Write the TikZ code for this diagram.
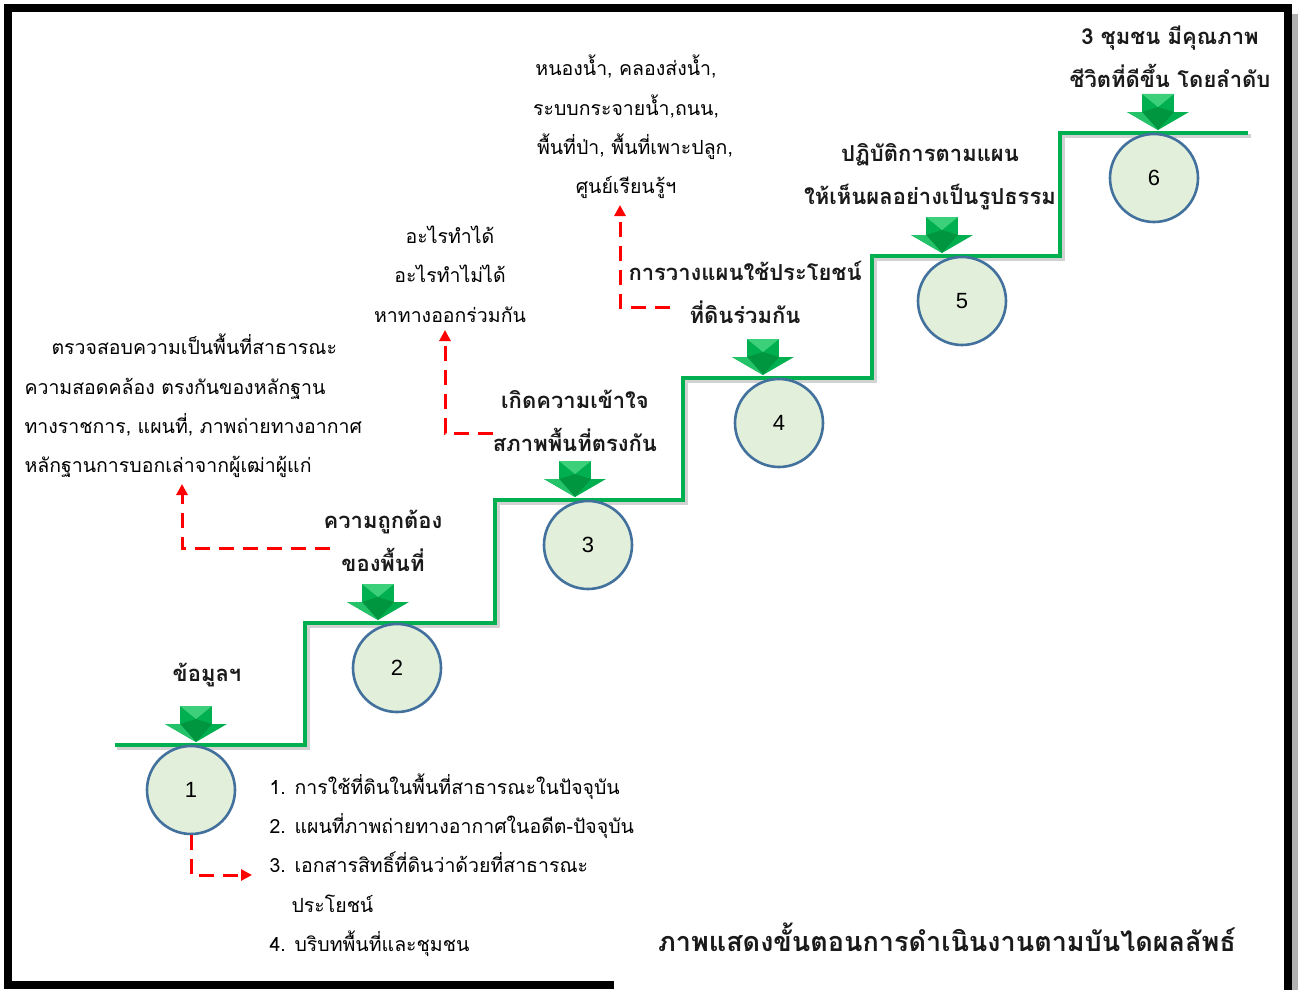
\documentclass[tikz,border=0pt]{standalone}
\usepackage{fontspec}
\newfontfamily\thai[Script=Thai]{Loma}
\setsansfont{Liberation Sans}
\usetikzlibrary{arrows.meta}
\definecolor{stairgreen}{HTML}{00B050}
\definecolor{circfill}{HTML}{E2EFDA}
\definecolor{circline}{HTML}{41719C}
\definecolor{argreen}{HTML}{00B050}
\definecolor{ardark}{HTML}{00963F}
\definecolor{arlight}{HTML}{3CD07A}
\definecolor{txt}{HTML}{1A1A1A}
\tikzset{
  stair/.style={draw=stairgreen,line width=4.5pt,line join=miter},
  stairshadow/.style={draw=black!35,line width=4.5pt,opacity=0.5},
  stepcircle/.style={circle,draw=circline,line width=2.6pt,fill=circfill,minimum size=88pt,inner sep=0pt,font=\sffamily\fontsize{22}{24}\selectfont},
  steplabel/.style={align=center,text=txt,font=\thai\bfseries\fontsize{22}{43}\selectfont},
  plaintext/.style={text=black,font=\thai\fontsize{19.5}{39.3}\selectfont},
  redarrow/.style={draw=red,line width=3pt,dash pattern=on 15pt off 9pt,-{Triangle[length=11pt,width=11pt]}},
}
\newcommand\greenarrow[2]{%
  \begin{scope}[shift={(#1,#2)}]
    \fill[argreen] (-16,-37) rectangle (16,-19);
    \fill[arlight] (-16,-37) -- (16,-37) -- (0,-24) -- cycle;
    \fill[argreen] (-31,-19) -- (31,-19) -- (0,-1) -- cycle;
    \fill[ardark] (-16,-19) -- (0,-24) -- (16,-19) -- (0,-1) -- cycle;
    \fill[arlight!60!argreen] (-31,-19) -- (-16,-19) -- (0,-1) -- cycle;
  \end{scope}}
\begin{document}
\begin{tikzpicture}[x=1pt,y=-1pt]
\useasboundingbox (0,0) rectangle (1299,990);
\fill[white] (0,0) rectangle (1299,990);
% frame
\fill[black!30] (1292,14) rectangle (1298,990);
\draw[black,line width=8pt] (614,985) -- (8,985) -- (8,8) -- (1288,8) -- (1288,990);
% staircase
\draw[stairshadow] (117,748) -| (308,626) -| (498,503) -| (686,381) -| (875,259) -| (1063,136) -- (1251,136);
\draw[stair] (115,745) -| (305,623) -| (495,500) -| (683,378) -| (872,256) -| (1060,133) -- (1248,133);
% circles
\node[stepcircle] (c1) at (191,790) {1};
\node[stepcircle] (c2) at (397,668) {2};
\node[stepcircle] (c3) at (588,545) {3};
\node[stepcircle] (c4) at (779,423) {4};
\node[stepcircle] (c5) at (962,301) {5};
\node[stepcircle] (c6) at (1154,178) {6};
% green arrows
\greenarrow{196}{743}
\greenarrow{378}{621}
\greenarrow{575}{498}
\greenarrow{763}{376}
\greenarrow{942}{254}
\greenarrow{1158}{131}
% step labels
\node[steplabel] (l1) at (207,675) {ข้อมูลฯ};
\node[steplabel] (l2) at (383,541) {ความถูกต้อง\\ของพื้นที่};
\node[steplabel] (l3) at (575,421) {เกิดความเข้าใจ\\สภาพพื้นที่ตรงกัน};
\node[steplabel] (l4) at (745,292) {การวางแผนใช้ประโยชน์\\ที่ดินร่วมกัน};
\node[steplabel] (l5) at (930,177) {ปฏิบัติการตามแผน\\ให้เห็นผลอย่างเป็นรูปธรรม};
\node[steplabel] (l6) at (1170,57) {3 ชุมชน มีคุณภาพ\\ชีวิตที่ดีขึ้น โดยลำดับ};
% detail texts
\node[plaintext,align=left,anchor=west] (d1) at (266,865) {1. การใช้ที่ดินในพื้นที่สาธารณะในปัจจุบัน\\2. แผนที่ภาพถ่ายทางอากาศในอดีต-ปัจจุบัน\\3. เอกสารสิทธิ์ที่ดินว่าด้วยที่สาธารณะ\\\hspace*{22pt}ประโยชน์\\4. บริบทพื้นที่และชุมชน};
\node[plaintext,align=left,anchor=west] (d2) at (21,406) {\hspace*{27pt}ตรวจสอบความเป็นพื้นที่สาธารณะ\\ความสอดคล้อง ตรงกันของหลักฐาน\\ทางราชการ, แผนที่, ภาพถ่ายทางอากาศ\\หลักฐานการบอกเล่าจากผู้เฒ่าผู้แก่};
\node[plaintext,align=center] (d3) at (450,274) {อะไรทำได้\\อะไรทำไม่ได้\\หาทางออกร่วมกัน};
\node[plaintext,align=center] (d4) at (626,127) {หนองน้ำ, คลองส่งน้ำ,\\ระบบกระจายน้ำ,ถนน,\\\hspace*{18pt}พื้นที่ป่า, พื้นที่เพาะปลูก,\\ศูนย์เรียนรู้ฯ};
% title
\node[text=txt,font=\thai\bfseries\fontsize{27}{30}\selectfont] (title) at (947,937) {ภาพแสดงขั้นตอนการดำเนินงานตามบันไดผลลัพธ์};
% red dashed connectors
\coordinate (e1) at (252,875);
\coordinate (s2) at (330,548);
\coordinate (e2) at (182,484);
\coordinate (s3) at (493,433);
\coordinate (e3) at (445,330);
\coordinate (s4) at (670,307);
\coordinate (e4) at (620,205);
\draw[redarrow] (c1.south) |- (e1);
\draw[redarrow] (s2) -| (e2);
\draw[redarrow] (s3) -| (e3);
\draw[redarrow] (s4) -| (e4);
\end{tikzpicture}
\end{document}
